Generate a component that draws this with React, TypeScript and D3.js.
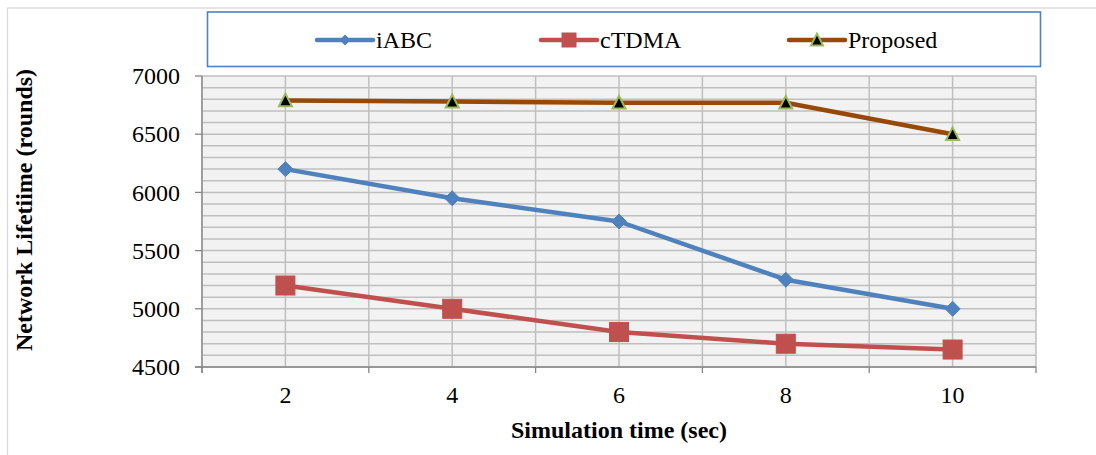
import React from "react";
import * as d3 from "d3";

const categories = ["2", "4", "6", "8", "10"];
const iABC = [6200, 5950, 5750, 5250, 5000];
const cTDMA = [5200, 5000, 4800, 4700, 4650];
const proposed = [6790, 6780, 6770, 6770, 6500];
const yTicks = [4500, 5000, 5500, 6000, 6500, 7000];
const seriesNames = ["iABC", "cTDMA", "Proposed"];

const W = 1096;
const H = 455;
const plot = { left: 202, right: 1036, top: 76, bottom: 367 };
const FONT = "'Liberation Serif', 'Times New Roman', serif";

export default function App() {
  const x = d3
    .scaleBand<string>()
    .domain(categories)
    .range([plot.left, plot.right])
    .paddingInner(0)
    .paddingOuter(0);
  const cx = (c: string) => (x(c) as number) + x.bandwidth() / 2;
  const y = d3.scaleLinear().domain([4500, 7000]).range([plot.bottom, plot.top]);
  const minor = d3.range(4500, 7001, 100);
  const line = d3
    .line<number>()
    .x((_, i) => cx(categories[i]))
    .y((d) => y(d));

  const boundaries = categories.map((c) => x(c) as number).concat([plot.right]);
  const grid = "#BFBFBF";
  const axisCol = "#868686";

  const diamond = (px: number, py: number, r: number) =>
    `M${px},${py - r}L${px + r},${py}L${px},${py + r}L${px - r},${py}Z`;
  const tri = (px: number, py: number, s: number) => {
    const h = s * 0.9;
    return `M${px},${py - h / 2 - 1}L${px + s / 2},${py + h / 2}L${px - s / 2},${py + h / 2}Z`;
  };

  const legendItems = [
    { name: seriesNames[0], x0: 317, color: "#4F81BD", marker: "diamond" },
    { name: seriesNames[1], x0: 541, color: "#C0504D", marker: "square" },
    { name: seriesNames[2], x0: 789, color: "#984807", marker: "triangle" },
  ];

  return (
    <svg
      width={W}
      height={H}
      style={{ position: "absolute", left: 0, top: 0, display: "block" }}
    >
      <rect x={0} y={0} width={W} height={H} fill="#fff" />
      <rect x={7.5} y={8} width={W + 10} height={H + 10} fill="#fff" stroke="#D9D9D9" strokeWidth={1.3} />

      {/* plot background */}
      <rect x={plot.left} y={plot.top} width={plot.right - plot.left} height={plot.bottom - plot.top} fill="#F2F2F2" />

      {/* horizontal gridlines */}
      {minor.map((v) => (
        <line key={"h" + v} x1={plot.left} x2={plot.right} y1={y(v)} y2={y(v)} stroke={grid} strokeWidth={1.5} />
      ))}
      {/* vertical gridlines */}
      {boundaries.map((b, i) => (
        <line key={"vb" + i} x1={b} x2={b} y1={plot.top} y2={plot.bottom} stroke={grid} strokeWidth={1.5} />
      ))}
      {categories.map((c) => (
        <line key={"vc" + c} x1={cx(c)} x2={cx(c)} y1={plot.top} y2={plot.bottom} stroke={grid} strokeWidth={1.5} />
      ))}

      {/* axes */}
      <line x1={plot.left} x2={plot.left} y1={plot.top} y2={plot.bottom + 6} stroke={axisCol} strokeWidth={1.3} />
      <line x1={plot.left - 7} x2={plot.right} y1={plot.bottom} y2={plot.bottom} stroke={axisCol} strokeWidth={1.3} />
      {yTicks.map((t) => (
        <g key={"yt" + t}>
          <line x1={plot.left - 7} x2={plot.left} y1={y(t)} y2={y(t)} stroke={axisCol} strokeWidth={1.3} />
          <text x={180} y={y(t)} dy="0.34em" textAnchor="end" fontFamily={FONT} fontSize={24} fill="#000">
            {t}
          </text>
        </g>
      ))}
      {boundaries.map((b, i) => (
        <line key={"xt" + i} x1={b} x2={b} y1={plot.bottom} y2={plot.bottom + 6} stroke={axisCol} strokeWidth={1.3} />
      ))}
      {categories.map((c) => (
        <text key={"xl" + c} x={cx(c)} y={403} textAnchor="middle" fontFamily={FONT} fontSize={24} fill="#000">
          {c}
        </text>
      ))}

      {/* series */}
      <path d={line(proposed) as string} fill="none" stroke="#984807" strokeWidth={4.5} strokeLinejoin="round" />
      <path d={line(iABC) as string} fill="none" stroke="#4F81BD" strokeWidth={4.5} strokeLinejoin="round" />
      <path d={line(cTDMA) as string} fill="none" stroke="#C0504D" strokeWidth={4.5} strokeLinejoin="round" />

      {iABC.map((v, i) => (
        <path key={"d" + i} d={diamond(cx(categories[i]), y(v), 7.5)} fill="#4F81BD" stroke="#4F81BD" strokeWidth={1} />
      ))}
      {cTDMA.map((v, i) => (
        <rect key={"s" + i} x={cx(categories[i]) - 9.5} y={y(v) - 9.5} width={19} height={19} fill="#C0504D" stroke="#C0504D" strokeWidth={1} />
      ))}
      {proposed.map((v, i) => (
        <path key={"t" + i} d={tri(cx(categories[i]), y(v), 13)} fill="#000" stroke="#9BBB59" strokeWidth={2} />
      ))}

      {/* legend */}
      <rect x={207.5} y={12} width={833} height={54.5} fill="#fff" stroke="#4F81BD" strokeWidth={1.6} />
      {legendItems.map((it) => (
        <g key={it.name}>
          <line x1={it.x0} x2={it.x0 + 56} y1={40} y2={40} stroke={it.color} strokeWidth={4.5} strokeLinecap="round" />
          {it.marker === "diamond" && <path d={diamond(it.x0 + 28, 40, 5.5)} fill={it.color} />}
          {it.marker === "square" && <rect x={it.x0 + 28 - 7.5} y={40 - 7.5} width={15} height={15} fill={it.color} />}
          {it.marker === "triangle" && <path d={tri(it.x0 + 28, 40, 12)} fill="#000" stroke="#9BBB59" strokeWidth={2} />}
          <text x={it.x0 + 59} y={47.5} fontFamily={FONT} fontSize={24} fill="#000">
            {it.name}
          </text>
        </g>
      ))}

      {/* axis titles */}
      <text x={619} y={438} textAnchor="middle" fontFamily={FONT} fontSize={24} fontWeight="bold" fill="#000">
        Simulation time (sec)
      </text>
      <text
        transform={`translate(32,210) rotate(-90)`}
        textAnchor="middle"
        fontFamily={FONT}
        fontSize={24}
        fontWeight="bold"
        fill="#000"
      >
        Network Lifetiime (rounds)
      </text>
    </svg>
  );
}
